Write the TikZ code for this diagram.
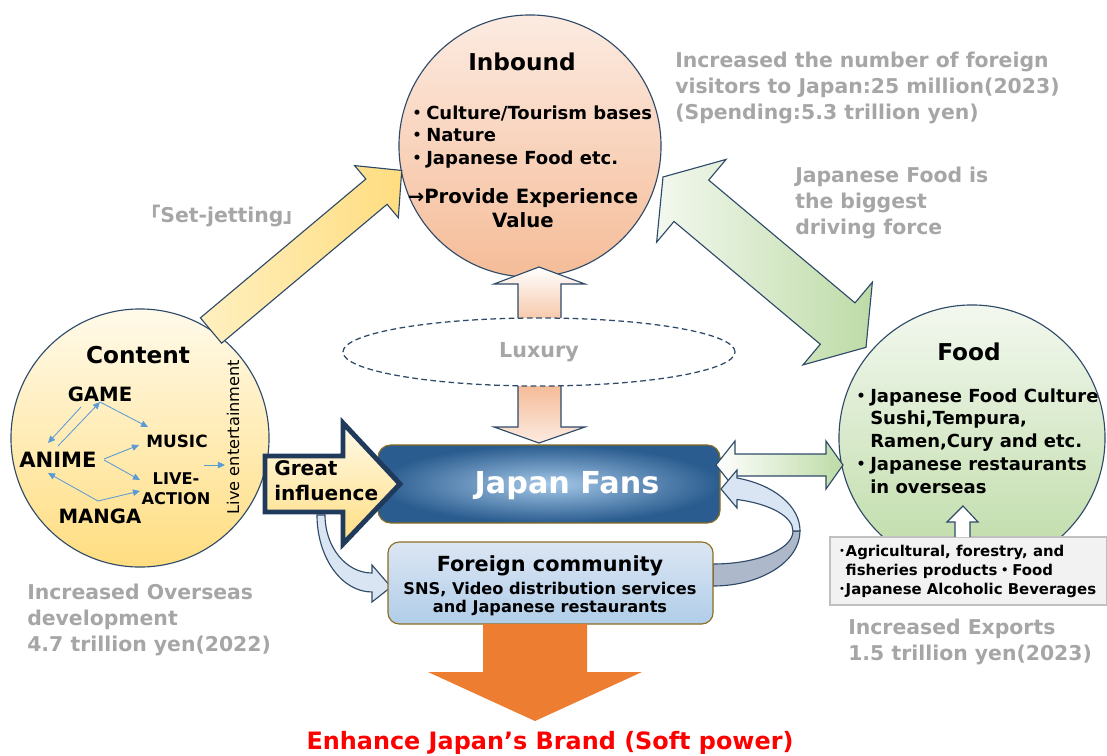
\documentclass[tikz,border=0pt]{standalone}
\usepackage{fontspec}
\setmainfont{DejaVu Sans}
\newfontfamily\cjk{Noto Sans CJK JP}
\usetikzlibrary{shapes.geometric,arrows.meta,calc}

\definecolor{edge}{HTML}{2F4A68}
\definecolor{brownedge}{HTML}{8C6D1F}
\definecolor{greytext}{HTML}{A6A6A6}
\definecolor{peachtop}{HTML}{FCEBE1}
\definecolor{peachbot}{HTML}{F5BC98}
\definecolor{creamtop}{HTML}{FFFAEA}
\definecolor{yellowmid}{HTML}{FFF0C0}
\definecolor{yellowbot}{HTML}{FFDD80}
\definecolor{greentop}{HTML}{F3F8EF}
\definecolor{greenbot}{HTML}{BDDBA6}
\definecolor{fansdark}{HTML}{2A5C8F}
\definecolor{fanslight}{HTML}{A5C8E8}
\definecolor{commtop}{HTML}{DCE6F4}
\definecolor{commbot}{HTML}{B0CDE8}
\definecolor{ringlight}{HTML}{DAE5F3}
\definecolor{ringdark}{HTML}{ADB9CA}
\definecolor{arrowblue}{HTML}{5B9BD5}
\definecolor{navy}{HTML}{203A5C}
\definecolor{brandorange}{HTML}{ED7D31}
\definecolor{brandred}{HTML}{FF0000}
\definecolor{boxgrey}{HTML}{F2F2F2}
\definecolor{boxline}{HTML}{C0C0C0}

\begin{document}
\begin{tikzpicture}[x=0.025cm,y=-0.025cm,
    every node/.style={inner sep=0pt},
    heading/.style={font=\bfseries\fontsize{16.5}{20}\selectfont},
    listtext/.style={font=\bfseries\fontsize{12.8}{15.9}\selectfont,align=left,anchor=west},
    greynote/.style={font=\bfseries\fontsize{14.5}{18.6}\selectfont,text=greytext,align=left,anchor=west},
    word/.style={font=\bfseries\fontsize{#1}{#1}\selectfont},
    bigarrow/.style={draw=edge,line width=0.8pt},
    thinarrow/.style={draw=arrowblue,line width=0.6pt,-{Triangle[length=5pt,width=4.5pt]}}]
  \fill[white] (0,0) rectangle (1107,756);
  \useasboundingbox (0,0) rectangle (1107,756);

  % the three circles
  \node[circle,draw=edge,line width=0.8pt,top color=peachtop,bottom color=peachbot,minimum size=6.55cm] (inbound) at (530,146) {};
  \node[circle,draw=edge,line width=0.8pt,top color=creamtop,bottom color=yellowbot,minimum size=6.45cm] (content) at (140,438) {};
  \node[circle,draw=edge,line width=0.8pt,top color=greentop,bottom color=greenbot,minimum size=6.65cm] (food) at (972,438) {};

  % Set-jetting and Inbound <-> Food
  \begin{scope}[shift={(211,330.5)},rotate=40]
    \draw[bigarrow,left color=yellowmid,right color=yellowbot] (0,-16.5) -- (216,-16.5) -- (216,-34) -- (249,0) -- (216,34) -- (216,16.5) -- (0,16.5) -- cycle;
  \end{scope}
  \begin{scope}[shift={(663,177)},rotate=-40]
    \draw[bigarrow,left color=greentop,right color=greenbot] (0,0) -- (37,-54) -- (37,-27) -- (228,-27) -- (228,-54) -- (265,0) -- (228,54) -- (228,27) -- (37,27) -- (37,54) -- cycle;
  \end{scope}

  % Inbound
  \node[heading] (inbtitle) at (522,62) {Inbound};
  \node[listtext] (inblist) at (408,137) {{\cjk ・}Culture/Tourism bases\\{\cjk ・}Nature\\{\cjk ・}Japanese Food etc.};
  \node[font=\bfseries\fontsize{14}{17}\selectfont,align=center] (value) at (523,208) {→Provide Experience\\Value};

  % Content
  \node[heading] (conttitle) at (138,355) {Content};
  \node[word=14] (game) at (100,394) {GAME};
  \node[word=15] (anime) at (58,460) {ANIME};
  \node[word=12] (music) at (177,441) {MUSIC};
  \node[font=\bfseries\fontsize{11.5}{14}\selectfont,align=center] (live) at (176,489) {LIVE-\\ACTION};
  \node[word=14] (manga) at (100,516) {MANGA};
  \node[font=\fontsize{11.5}{14}\selectfont,rotate=90] (liveent) at (233,437) {Live entertainment};
  \draw[thinarrow] ($(game)+(-19,13)$) -- ($(anime)+(-10,-17)$);
  \draw[thinarrow] ($(anime)+(0,-14)$) -- ($(game)+(0,8)$);
  \draw[thinarrow] ($(game)+(0,8)$) -- ($(music)+(-29,-14)$);
  \draw[thinarrow] ($(anime)+(46,-1)$) -- ($(music)+(-38,4)$);
  \draw[thinarrow] ($(anime)+(46,0)$) -- ($(live)+(-36,-9)$);
  \draw[thinarrow] ($(manga)+(-2,-15)$) -- ($(anime)+(-10,13)$);
  \draw[thinarrow] ($(manga)+(-2,-15)$) -- ($(live)+(-36,2)$);
  \draw[thinarrow] ($(live)+(28,-24)$) -- ($(liveent)+(-8,28)$);

  % Food
  \node[heading] (foodtitle) at (969,352) {Food};
  \node[listtext,font=\bfseries\fontsize{12.8}{16.2}\selectfont] (foodlist) at (852,441) {{\cjk ・}Japanese Food Culture\\\phantom{\cjk ・}Sushi,Tempura,\\\phantom{\cjk ・}Ramen,Cury and etc.\\{\cjk ・}Japanese restaurants\\\phantom{\cjk ・}in overseas};

  % Luxury
  \draw[bigarrow,top color=white,bottom color=peachbot!80] (518,318) -- (518,284) -- (494,284) -- (539,267) -- (585,284) -- (561,284) -- (561,318);
  \draw[bigarrow,top color=peachbot,bottom color=peachtop] (518,386) -- (518,427) -- (494,427) -- (539,443) -- (585,427) -- (561,427) -- (561,386);
  \node[ellipse,draw=edge,line width=0.9pt,dash pattern=on 4pt off 2.5pt,fill=white,minimum width=9.8cm,minimum height=1.7cm,font=\bfseries\fontsize{14.7}{17}\selectfont,text=greytext] (luxury) at (539,352) {Luxury};

  % Japan Fans and its loops
  \node[draw=brownedge,line width=0.8pt,rounded corners=9pt,inner color=fanslight,outer color=fansdark,minimum width=8.55cm,minimum height=1.95cm] (fans) at (549,484) {};
  \node[font=\bfseries\fontsize{21.5}{24}\selectfont,text=white] (fanslabel) at (567,486) {Japan Fans};
  \draw[bigarrow,left color=white,right color=greenbot] (716,465) -- (735,441) -- (735,454) -- (826,454) -- (826,441) -- (843,465) -- (826,489) -- (826,476) -- (735,476) -- (735,489) -- cycle;
  \draw[bigarrow,fill=ringdark] (800,531) arc[start angle=0,end angle=90,x radius=87,y radius=55] -- (713,564) arc[start angle=90,end angle=0,x radius=80,y radius=33] -- cycle;
  \draw[bigarrow,fill=ringlight] (721,489) -- (737,470) -- (737,478) arc[start angle=-74,end angle=0,x radius=87,y radius=55] -- (793,531) arc[start angle=0,end angle=-72.5,x radius=80,y radius=33] -- (737,508) -- cycle;
  \draw[bigarrow,fill=ringlight] (317,515) arc[start angle=180,end angle=90,x radius=55,y radius=77] -- (372,602) -- (391,587) -- (372,565) -- (372,573) arc[start angle=90,end angle=180,x radius=47,y radius=58] -- cycle;
  \node[draw=brownedge,line width=0.8pt,rounded corners=8pt,top color=commtop,bottom color=commbot,minimum width=8.125cm,minimum height=2.05cm] (community) at (550.5,583) {};
  \node[font=\bfseries\fontsize{14.8}{17}\selectfont] (commtitle) at (550,566) {Foreign community};
  \node[font=\bfseries\fontsize{11.5}{12.8}\selectfont,align=center] (commtext) at (550,599) {SNS, Video distribution services\\and Japanese restaurants};

  % Great influence
  \draw[draw=navy,line width=3.5pt,top color=creamtop,bottom color=yellowbot] (265,456) -- (343,456) -- (343,423) -- (400,484) -- (343,544) -- (343,512) -- (265,512) -- cycle;
  \node[font=\bfseries\fontsize{14.3}{17.8}\selectfont,align=left,anchor=west] (influence) at (274,481) {Great\\influence};

  % exports box
  \node[draw=boxline,line width=0.8pt,fill=boxgrey,minimum width=6.925cm,minimum height=1.7cm] (exports) at (968.5,571) {};
  \node[font=\bfseries\fontsize{10.6}{13.5}\selectfont,align=left,anchor=west] (exptext) at (838,571) {{\cjk ･}Agricultural, forestry, and\\\phantom{\cjk ･}fisheries products{\cjk ・}Food\\{\cjk ･}Japanese Alcoholic Beverages};
  \draw[bigarrow,fill=white] (955,537) -- (955,522) -- (947,522) -- (963,506) -- (978,522) -- (970,522) -- (970,537);

  % Soft power
  \fill[brandorange] (483,624) -- (483,672) -- (428,672) -- (535,721) -- (642,672) -- (587,672) -- (587,624) -- cycle;
  \node[font=\bfseries\fontsize{17}{20}\selectfont,text=brandred] (brand) at (550,743) {Enhance Japan’s Brand (Soft power)};

  % grey notes
  \node[greynote] (visitors) at (675,88) {Increased the number of foreign\\visitors to Japan:25 million(2023)\\(Spending:5.3 trillion yen)};
  \node[greynote] (force) at (795,203) {Japanese Food is\\the biggest\\driving force};
  \node[greynote,anchor=center] (setjet) at (222,216) {{\cjk 「}Set-jetting{\cjk 」}};
  \node[greynote] (overseas) at (27,620) {Increased Overseas\\development\\4.7 trillion yen(2022)};
  \node[greynote] (exportnote) at (848,642) {Increased Exports\\1.5 trillion yen(2023)};
\end{tikzpicture}
\end{document}
